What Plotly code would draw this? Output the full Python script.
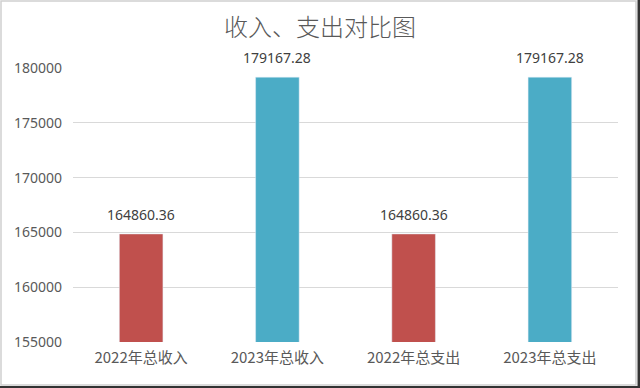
import plotly.graph_objects as go

categories = ["2022年总收入", "2023年总收入", "2022年总支出", "2023年总支出"]
values = [164860.36, 179167.28, 164860.36, 179167.28]
labels = ["164860.36", "179167.28", "164860.36", "179167.28"]
colors = ["#C0504D", "#4BACC6", "#C0504D", "#4BACC6"]
tick_vals = [155000, 160000, 165000, 170000, 175000, 180000]

W, H = 640, 388
L, R, T, B = 73, 22, 68, 46
pw, ph = W - L - R, H - T - B

def px(x):
    return (x - L) / pw

def py(y):
    return (H - B - y) / ph

font = "Noto Sans CJK SC, Noto Sans, sans-serif"
num_font = "Noto Sans, sans-serif"

fig = go.Figure(go.Bar(
    x=categories, y=values, marker_color=colors, width=0.32, hoverinfo="skip",
))

annotations = [
    dict(x=c, y=v, text=t, xref="x", yref="y", showarrow=False,
         yanchor="bottom", yshift=8,
         font=dict(size=14, color="#404040", family=num_font))
    for c, v, t in zip(categories, values, labels)
]

fig.update_layout(
    width=W, height=H,
    margin=dict(l=L, r=R, t=T, b=B, autoexpand=False),
    paper_bgcolor="white", plot_bgcolor="white",
    showlegend=False,
    title=dict(text="收入、支出对比图", x=0.5, xanchor="center", xref="container",
               y=1 - 28 / H, yanchor="middle", yref="container",
               font=dict(size=24, color="#595959", family=font, weight=300)),
    xaxis=dict(showgrid=False, showline=False, ticks="", automargin=False,
               ticklabelstandoff=5,
               tickfont=dict(size=15, color="#595959", family=font)),
    yaxis=dict(range=[155000, 180000], tickvals=tick_vals, automargin=False,
               tickformat="d", showgrid=True, gridcolor="#D9D9D9", gridwidth=1,
               zeroline=False, showline=False, ticks="", ticklabelstandoff=10,
               tickfont=dict(size=14, color="#595959", family=num_font)),
    annotations=annotations,
    shapes=[
        dict(type="rect", xref="paper", yref="paper", x0=px(1), x1=px(636), y0=py(385), y1=py(1),
             line=dict(color="#D0D0D0", width=1.5), layer="above"),
        dict(type="rect", xref="paper", yref="paper", x0=px(637.5), x1=px(640), y0=py(388), y1=py(0),
             line=dict(width=0), fillcolor="#333333", layer="above"),
        dict(type="rect", xref="paper", yref="paper", x0=px(0), x1=px(640), y0=py(388), y1=py(386),
             line=dict(width=0), fillcolor="#333333", layer="above"),
    ],
)

fig.write_html("out.html", config={"displayModeBar": False},
               post_script="document.body.style.margin='0';document.body.style.overflow='hidden';")
